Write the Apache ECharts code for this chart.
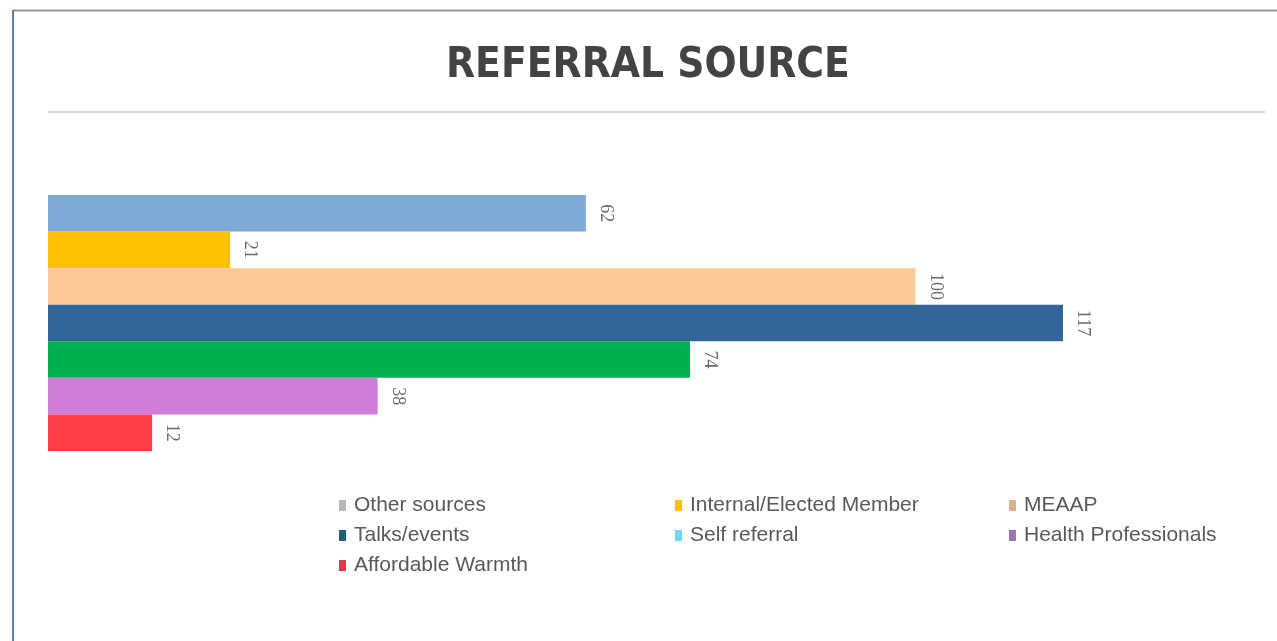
<!DOCTYPE html>
<html>
<head>
<meta charset="utf-8">
<script src="https://cdn.jsdelivr.net/npm/echarts@6/dist/echarts.min.js"></script>
<style>
  html, body { margin: 0; padding: 0; background: #fff; }
  #chart { width: 1277px; height: 641px; }
</style>
</head>
<body>
<div id="chart"></div>
<script>
// data
var categories = ['Referral source'];
var seriesNames = ['Other sources', 'Internal/Elected Member', 'MEAAP', 'Talks/events',
                   'Self referral', 'Health Professionals', 'Affordable Warmth'];
var seriesValues = [62, 21, 100, 117, 74, 38, 12];
var barColors = ['#7eaad6', '#ffc000', '#fcc994', '#32659a', '#00b04f', '#cf7dd6', '#ff3d46'];
// legend swatches in the picture do not match the bars for every entry
var legendColors = ['#b8b8b8', '#ffc000', '#d8b48e', '#22607a', '#72d8f2', '#9f72b8', '#ea3350'];

var chart = echarts.init(document.getElementById('chart'));

var series = seriesNames.map(function (name, i) {
    return {
        name: name,
        type: 'bar',
        data: [seriesValues[i]],
        barGap: '0%',
        barCategoryGap: '0%',
        itemStyle: { color: barColors[i] },
        label: {
            show: true,
            position: 'right',
            rotate: -90,
            distance: 20,
            align: 'center',
            verticalAlign: 'middle',
            fontFamily: 'Liberation Serif',
            fontSize: 18,
            color: '#6b6b6b'
        }
    };
});

function legendItems(idx) {
    return idx.map(function (i) {
        return { name: seriesNames[i], itemStyle: { color: legendColors[i] } };
    });
}

var legendBase = {
    orient: 'vertical',
    top: 490,
    itemWidth: 7,
    itemHeight: 11,
    itemGap: 9,
    icon: 'rect',
    selectedMode: false,
    textStyle: { fontFamily: 'Liberation Sans', fontSize: 21, color: '#595959', padding: [0, 0, 0, 3] }
};

chart.setOption({
    animation: false,
    title: {
        text: 'REFERRAL SOURCE',
        left: 441,
        top: 40,
        textStyle: { fontFamily: 'DejaVu Sans Condensed', fontWeight: 'bold', fontSize: 42, color: '#434343' }
    },
    graphic: [
        { type: 'line', shape: { x1: 13, y1: 10.5, x2: 1277, y2: 10.5 }, style: { stroke: '#9a9a9a', lineWidth: 2 } },
        { type: 'line', shape: { x1: 13, y1: 10, x2: 13, y2: 641 }, style: { stroke: '#5b7fa6', lineWidth: 2 } },
        { type: 'line', shape: { x1: 48, y1: 112, x2: 1265, y2: 112 }, style: { stroke: '#d6d6d6', lineWidth: 2 } }
    ],
    legend: [
        Object.assign({ left: 334, data: legendItems([0, 3, 6]) }, legendBase),
        Object.assign({ left: 670, data: legendItems([1, 4]) }, legendBase),
        Object.assign({ left: 1004, data: legendItems([2, 5]) }, legendBase)
    ],
    grid: { left: 48, top: 195, width: 1214.5, height: 256 },
    xAxis: {
        type: 'value',
        min: 0,
        max: 140,
        show: false
    },
    yAxis: {
        type: 'category',
        data: categories,
        inverse: true,
        show: false
    },
    series: series
});
</script>
</body>
</html>
